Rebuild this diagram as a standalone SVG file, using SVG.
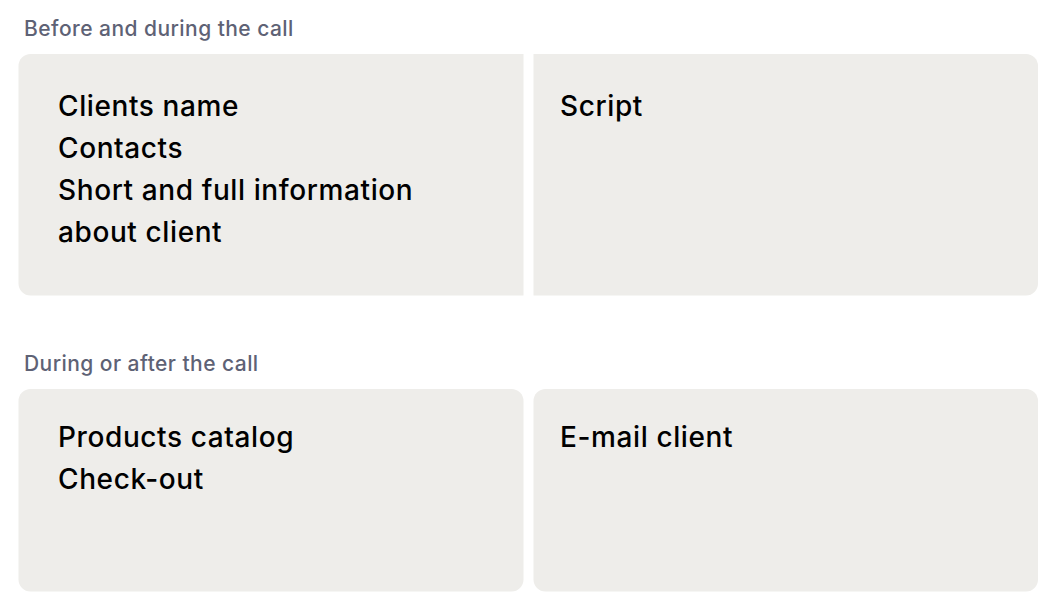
<svg xmlns="http://www.w3.org/2000/svg" width="1054" height="610" viewBox="0 0 1054 610">
<style>
.box{fill:#EEEDEA}
.head{font-family:Inter,"Liberation Sans",sans-serif;font-size:21px;font-weight:500;letter-spacing:0.45px;fill:#5E6275}
.body{font-family:Inter,"Liberation Sans",sans-serif;font-size:28px;font-weight:500;letter-spacing:0.6px;fill:#000}
</style>
<rect width="1054" height="610" fill="#fff"/>
<text class="head" x="24" y="36">Before and during the call</text>
<g id="node-client-info">
<path class="box" d="M30.5,54 H523.5 V295.5 H30.5 A12,12 0 0 1 18.5,283.5 V66 A12,12 0 0 1 30.5,54 Z"/>
<text class="body" x="58" y="116">Clients name</text>
<text class="body" x="58" y="158">Contacts</text>
<text class="body" x="58" y="200">Short and full information</text>
<text class="body" x="58" y="242">about client</text>
</g>
<g id="node-script">
<path class="box" d="M533.5,54 H1026 A12,12 0 0 1 1038,66 V283.5 A12,12 0 0 1 1026,295.5 H533.5 Z"/>
<text class="body" x="560" y="116">Script</text>
</g>
<text class="head" x="24" y="371">During or after the call</text>
<g id="node-products">
<rect class="box" x="18.5" y="389" width="505" height="202.5" rx="12"/>
<text class="body" x="58" y="447">Products catalog</text>
<text class="body" x="58" y="489">Check-out</text>
</g>
<g id="node-email">
<rect class="box" x="533.5" y="389" width="504.5" height="202.5" rx="12"/>
<text class="body" x="560" y="447">E-mail client</text>
</g>
<g id="connectors"/>
</svg>
